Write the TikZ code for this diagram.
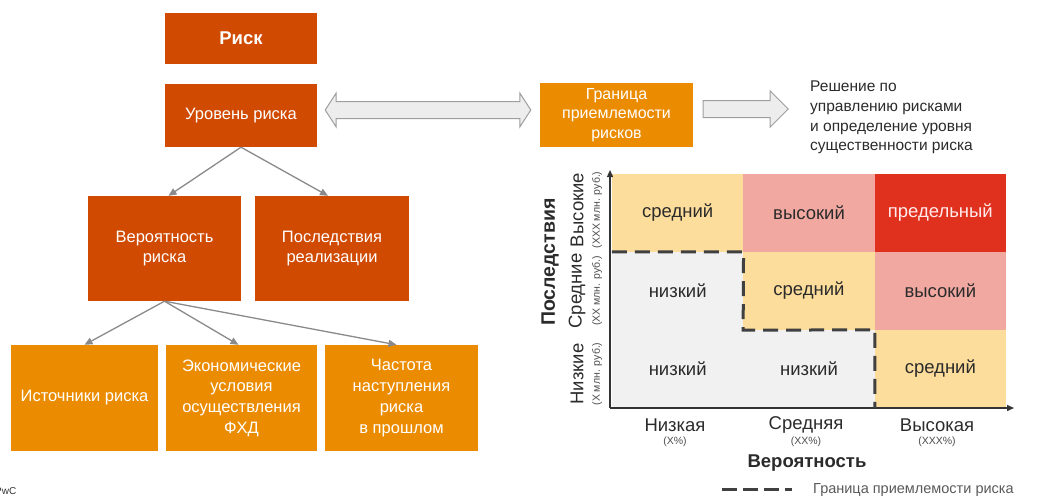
\documentclass[tikz,border=0pt]{standalone}
\usepackage{fontspec}
\setmainfont{Liberation Sans}
\usetikzlibrary{arrows.meta,calc}
\definecolor{pwcdark}{HTML}{D04A02}
\definecolor{pwclight}{HTML}{EB8C00}
\definecolor{cellyel}{HTML}{FDDD9B}
\definecolor{cellpink}{HTML}{F1A8A1}
\definecolor{cellred}{HTML}{E0301E}
\definecolor{cellgray}{HTML}{F1F1F1}
\definecolor{conngray}{HTML}{8A8A8A}
\definecolor{txtdark}{HTML}{2B2B2B}
\tikzset{
  dbox/.style={fill=pwcdark, draw=none, text=white, align=center, inner sep=0pt,
    font=\fontsize{16.5}{20.7}\selectfont},
  lbox/.style={fill=pwclight, draw=none, text=white, align=center, inner sep=0pt,
    font=\fontsize{16.5}{20.7}\selectfont, minimum height=106pt},
  conn/.style={draw=conngray, line width=1.3pt, -{Triangle[length=8pt,width=7pt]}},
  blockarrow/.style={fill=black!7, draw=black!38, line width=1pt, line join=miter},
  cell/.style={draw=none, minimum width=131.33pt, minimum height=78pt, inner sep=0pt,
    text=txtdark, font=\fontsize{18.5}{20}\selectfont},
  axis/.style={draw=black!80, line width=1.4pt, -{Triangle[length=7pt,width=6pt]}},
  bound/.style={draw=black!75, line width=3pt, dash pattern=on 15pt off 8pt},
  ylab/.style={rotate=90, font=\fontsize{18.5}{20}\selectfont, text=txtdark, inner sep=0pt},
  ysmall/.style={rotate=90, font=\fontsize{10.5}{12}\selectfont, text=black!70, inner sep=0pt},
  xlab/.style={font=\fontsize{18.5}{20}\selectfont, text=txtdark, inner sep=0pt},
  xsmall/.style={font=\fontsize{10.5}{12}\selectfont, text=black!70, inner sep=0pt}
}
\begin{document}
\begin{tikzpicture}[x=1pt,y=-1pt]
\useasboundingbox (0,0) rectangle (1064,498);

% left hierarchy
\node[dbox, minimum width=152pt, minimum height=51pt, font=\fontsize{18.5}{20}\selectfont\bfseries] (risk) at (241,38.5) {Риск};
\node[dbox, minimum width=152pt, minimum height=63pt] (lvl) at (241,115.5) {Уровень риска};
\node[dbox, minimum width=153pt, minimum height=105pt] (ver) at (164.5,248.5) {Вероятность\\риска};
\node[dbox, minimum width=154pt, minimum height=105pt] (pos) at (332,248.5) {Последствия\\реализации};
\node[lbox, minimum width=147pt] (src) at (84.5,398) {Источники риска};
\node[lbox, minimum width=151pt] (eco) at (241.5,398) {Экономические\\условия\\осуществления\\ФХД};
\node[lbox, minimum width=153pt] (freq) at (401.5,398) {Частота\\наступления\\риска\\в прошлом};

\draw[conn] (lvl.south) -- ($(ver.north)+(4,0)$);
\draw[conn] (lvl.south) -- ($(pos.north)+(-4,0)$);
\draw[conn] (ver.south) -- (src.north);
\draw[conn] (ver.south) -- ($(eco.north)+(-3,0)$);
\draw[conn] (ver.south) -- ($(freq.north)+(-5,0)$);

% boundary box
\node[lbox, minimum width=153pt, minimum height=64pt, font=\fontsize{16}{19.5}\selectfont] (gran) at (616.5,115) {Граница\\приемлемости\\рисков};

% double block arrow
\coordinate (da1) at ($(lvl.east)+(8,-5.5)$);
\coordinate (da2) at ($(gran.west)+(-9,-5)$);
\draw[blockarrow] (da1) -- ++(11,-17) -- ++(0,8.5) -- ($(da2)+(-11,-8.5)$) -- ++(0,-8.5)
  -- (da2) -- ++(-11,17) -- ++(0,-8.5) -- ($(da1)+(11,8.5)$) -- ++(0,8.5) -- cycle;

% single block arrow
\coordinate (ra1) at ($(gran.east)+(10,-6)$);
\coordinate (ra2) at ($(gran.east)+(95,-6)$);
\draw[blockarrow] ($(ra1)+(0,-8.5)$) -- ($(ra2)+(-18,-8.5)$) -- ++(0,-9.5) -- (ra2)
  -- ++(-18,18) -- ++(0,-9.5) -- ($(ra1)+(0,8.5)$) -- cycle;

\node[anchor=north west, align=left, inner sep=0pt, text=txtdark, font=\fontsize{15.5}{19.6}\selectfont] (dec) at (810,81) {Решение по\\управлению рисками\\и определение уровня\\существенности риска};

% matrix
\node[cell, fill=cellyel] (c11) at (677.67,213) {средний};
\node[cell, fill=cellpink] (c12) at (809,213) {высокий};
\node[cell, fill=cellred, text=white!92!red] (c13) at (940.33,213) {предельный};
\node[cell, fill=cellgray] (c21) at (677.67,291) {низкий};
\node[cell, fill=cellyel] (c22) at (809,291) {средний};
\node[cell, fill=cellpink] (c23) at (940.33,291) {высокий};
\node[cell, fill=cellgray] (c31) at (677.67,369) {низкий};
\node[cell, fill=cellgray] (c32) at (809,369) {низкий};
\node[cell, fill=cellyel] (c33) at (940.33,369) {средний};

\coordinate (org) at (610,408);
\coordinate (ytip) at (610,170);
\coordinate (xtip) at (1014,408);
\draw[axis] (org) -- (ytip);
\draw[axis] (org) -- (xtip);

\draw[bound] (c21.north west) -- (c21.north east) -- (c22.south west) -- (c32.north east) -- (c32.south east);

% y labels
\node[ylab, font=\fontsize{19.5}{20}\selectfont\bfseries] (ytitle) at (550,262) {Последствия};
\node[ylab] (yh) at (577,210) {Высокие};
\node[ysmall] (yhs) at (597,210) {(XXX млн. руб.)};
\node[ylab] (ym) at (577,291) {Средние};
\node[ysmall] (yms) at (597,291) {(XX млн. руб.)};
\node[ylab] (yl) at (577,374) {Низкие};
\node[ysmall] (yls) at (597,374) {(X млн. руб.)};

% x labels
\node[xlab] (xl) at (675,425) {Низкая};
\node[xsmall] (xls) at (675,442) {(X\%)};
\node[xlab] (xm) at (806,425) {Средняя};
\node[xsmall] (xms) at (806,442) {(XX\%)};
\node[xlab] (xh) at (937,425) {Высокая};
\node[xsmall] (xhs) at (937,442) {(XXX\%)};
\node[xlab, font=\fontsize{18.5}{20}\selectfont\bfseries] (xtitle) at (807,463) {Вероятность};

% legend
\coordinate (lg1) at (722,489);
\coordinate (lg2) at (792,489);
\draw[bound, dash pattern=on 15pt off 6pt] (lg1) -- (lg2);
\node[anchor=west, inner sep=0pt, text=black!65, font=\fontsize{14.5}{16}\selectfont] (lgt) at (813,490) {Граница приемлемости риска};

\node[anchor=west, inner sep=0pt, text=black!80, font=\fontsize{10}{12}\selectfont] (pwc) at (-5,491) {PwC};
\end{tikzpicture}
\end{document}
